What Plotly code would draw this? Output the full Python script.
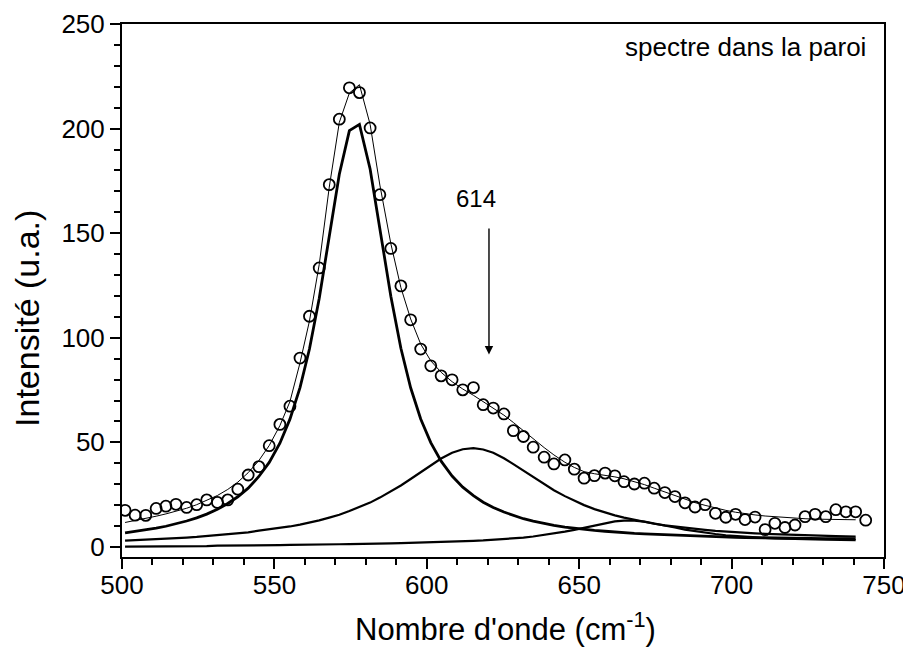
import plotly.graph_objects as go

# Measured spectrum (open circles)
wavenumber = [501.0, 504.3, 507.8, 511.2, 514.4, 517.7, 521.2, 524.5, 527.8, 531.3,
              534.7, 538.0, 541.4, 544.9, 548.3, 551.8, 555.1, 558.4, 561.5, 564.7,
              568.0, 571.3, 574.6, 577.9, 581.4, 584.6, 588.2, 591.5, 594.7, 598.0,
              601.3, 604.7, 608.3, 611.8, 615.3, 618.5, 621.8, 625.3, 628.4, 631.7,
              634.9, 638.5, 641.7, 645.3, 648.4, 651.6, 655.0, 658.5, 661.7, 664.7,
              668.1, 671.4, 674.6, 678.1, 681.4, 684.7, 688.0, 691.3, 694.7, 698.1,
              701.3, 704.4, 707.7, 711.0, 714.2, 717.5, 720.8, 724.1, 727.4, 730.9,
              734.2, 737.5, 740.7, 744.0]
intensity = [17.5, 15.2, 15.1, 18.4, 19.5, 20.4, 18.9, 20.2, 22.5, 21.3,
             22.5, 27.6, 34.4, 38.4, 48.4, 58.6, 67.3, 90.3, 110.3, 133.4,
             173.2, 204.5, 219.5, 217.2, 200.3, 168.4, 142.7, 124.8, 108.6, 94.6,
             86.6, 81.8, 79.9, 75.1, 76.2, 68.0, 66.4, 63.6, 55.6, 52.8,
             47.7, 42.9, 39.7, 41.6, 37.2, 32.9, 34.1, 35.3, 34.0, 31.2,
             30.1, 30.5, 28.1, 26.0, 24.1, 21.1, 19.1, 20.2, 16.1, 14.2,
             15.6, 13.1, 14.3, 8.3, 11.3, 9.3, 10.5, 14.5, 15.6, 14.5,
             17.8, 16.8, 16.8, 12.8]

# Fitted curves (at the same wavenumbers, up to ~741)
fit_x = wavenumber[:73]
fit_total = [11.7, 12.6, 13.6, 14.7, 15.8, 17.0, 18.5, 20.2, 22.2, 24.6,
             27.5, 31.0, 35.5, 41.3, 48.5, 58.0, 69.5, 88.0, 108.0, 135.0,
             172.0, 203.0, 217.0, 221.0, 202.0, 173.0, 145.0, 124.0, 109.0, 97.0,
             89.0, 83.5, 79.0, 75.5, 72.5, 69.5, 66.5, 63.0, 59.5, 55.5,
             51.5, 47.5, 44.0, 40.5, 38.0, 36.0, 35.0, 34.3, 33.5, 32.6,
             31.3, 29.8, 28.1, 26.2, 24.4, 22.7, 21.2, 19.9, 18.6, 17.5,
             16.6, 15.9, 15.3, 14.8, 14.4, 14.0, 13.7, 13.5, 13.3, 13.2,
             13.1, 13.0, 13.0]
peak_576 = [6.7, 7.4, 8.1, 9.0, 9.9, 11.0, 12.4, 13.9, 15.7, 18.0,
            20.8, 24.0, 28.1, 33.7, 40.4, 49.6, 61.1, 76.2, 94.6, 118.8,
            148.3, 178.2, 199.0, 202.0, 180.7, 152.2, 119.9, 95.0, 76.1, 61.2,
            49.9, 41.0, 33.9, 28.6, 24.5, 21.4, 18.9, 16.7, 15.0, 13.5,
            12.3, 11.2, 10.3, 9.5, 8.9, 8.4, 7.9, 7.5, 7.1, 6.8,
            6.5, 6.3, 6.1, 5.8, 5.6, 5.3, 5.1, 5.0, 4.8, 4.7,
            4.6, 4.5, 4.4, 4.4, 4.3, 4.2, 4.2, 4.1, 4.1, 4.0,
            4.0, 4.0, 4.0]
peak_614 = [3.0, 3.2, 3.4, 3.6, 3.9, 4.2, 4.5, 4.8, 5.2, 5.6,
            6.1, 6.5, 7.0, 7.8, 8.4, 9.1, 9.8, 10.7, 11.6, 12.7,
            14.0, 15.4, 17.2, 19.0, 21.2, 23.6, 26.5, 29.4, 32.5, 35.8,
            39.1, 42.3, 45.0, 46.7, 47.2, 46.6, 45.0, 42.4, 39.6, 36.5,
            33.3, 29.9, 27.1, 24.3, 22.0, 20.0, 18.1, 16.4, 15.1, 14.0,
            12.9, 12.0, 11.1, 10.3, 9.7, 9.1, 8.6, 8.2, 7.7, 7.3,
            7.0, 6.7, 6.5, 6.3, 6.1, 5.9, 5.7, 5.6, 5.4, 5.3,
            5.2, 5.1, 5.0]
peak_667 = [0.2, 0.2, 0.2, 0.2, 0.3, 0.3, 0.3, 0.4, 0.4, 0.6,
            0.6, 0.7, 0.8, 0.8, 0.9, 0.9, 1.0, 1.0, 1.1, 1.2,
            1.2, 1.3, 1.4, 1.4, 1.5, 1.6, 1.7, 1.8, 1.9, 2.1,
            2.2, 2.3, 2.5, 2.7, 2.9, 3.1, 3.4, 3.8, 4.1, 4.5,
            5.0, 5.7, 6.4, 7.3, 8.2, 9.2, 10.4, 11.5, 12.2, 12.6,
            12.6, 12.1, 11.3, 10.3, 9.3, 8.3, 7.5, 6.8, 6.2, 5.6,
            5.2, 4.8, 4.5, 4.3, 4.1, 3.9, 3.8, 3.7, 3.6, 3.5,
            3.4, 3.4, 3.3]

x_ticks = [500, 550, 600, 650, 700, 750]
y_ticks = [0, 50, 100, 150, 200, 250]

FONT = "Liberation Sans, Arial, sans-serif"

fig = go.Figure()
fig.add_trace(go.Scatter(x=fit_x, y=peak_667, mode="lines",
                         line=dict(color="black", width=2.2), name="667"))
fig.add_trace(go.Scatter(x=fit_x, y=peak_614, mode="lines",
                         line=dict(color="black", width=2.2), name="614"))
fig.add_trace(go.Scatter(x=fit_x, y=peak_576, mode="lines",
                         line=dict(color="black", width=2.8), name="576"))
fig.add_trace(go.Scatter(x=fit_x, y=fit_total, mode="lines",
                         line=dict(color="black", width=1), name="fit"))
fig.add_trace(go.Scatter(x=wavenumber, y=intensity, mode="markers",
                         marker=dict(symbol="circle-open", size=11,
                                     color="black", line=dict(width=1.8, color="black")),
                         name="data"))

fig.add_annotation(x=616, y=166.5, text="614", showarrow=False,
                   font=dict(size=24, color="black", family=FONT))
fig.add_annotation(x=620.4, y=92, ax=620.4, ay=153, axref="x", ayref="y",
                   xref="x", yref="y", text="", showarrow=True,
                   arrowhead=2, arrowsize=1.2, arrowwidth=1.4, arrowcolor="black")
fig.add_annotation(x=0.979, y=0.957, xref="paper", yref="paper", xanchor="right",
                   yanchor="middle", text="spectre dans la paroi", showarrow=False,
                   font=dict(size=26, color="black", family=FONT))
# axis titles
fig.add_annotation(x=-0.125, y=0.448, xref="paper", yref="paper", xanchor="center",
                   yanchor="middle", textangle=-90, text="Intensité (u.a.)",
                   showarrow=False, font=dict(size=34, color="black", family=FONT))
fig.add_annotation(x=0.503, y=-0.131, xref="paper", yref="paper", xanchor="center",
                   yanchor="middle", text="Nombre d'onde (cm<sup>-1</sup>)",
                   showarrow=False, font=dict(size=31, color="black", family=FONT))

axis_common = dict(showline=True, linecolor="black", linewidth=2, mirror=True,
                   ticks="outside", ticklen=10, tickwidth=2, tickcolor="black",
                   showgrid=False, zeroline=False, automargin=False,
                   tickfont=dict(size=26, color="black", family=FONT))

fig.update_xaxes(range=[500, 750], tickvals=x_ticks, ticktext=[str(v) for v in x_ticks],
                 ticklabelstandoff=-6,
                 minor=dict(dtick=10, tick0=500, ticks="outside", ticklen=6,
                            tickwidth=1.5, tickcolor="black"),
                 **axis_common)
fig.update_yaxes(range=[-4.8, 250], tickvals=y_ticks, ticktext=[str(v) for v in y_ticks],
                 minor=dict(dtick=10, tick0=0, ticks="outside", ticklen=6,
                            tickwidth=1.5, tickcolor="black"),
                 **axis_common)

# the page adds an 8px body margin at left/top, so the figure is offset accordingly
fig.update_layout(width=903, height=651, showlegend=False,
                  paper_bgcolor="white", plot_bgcolor="white",
                  margin=dict(l=114, r=27, t=16, b=102))

fig.write_html("out.html")
